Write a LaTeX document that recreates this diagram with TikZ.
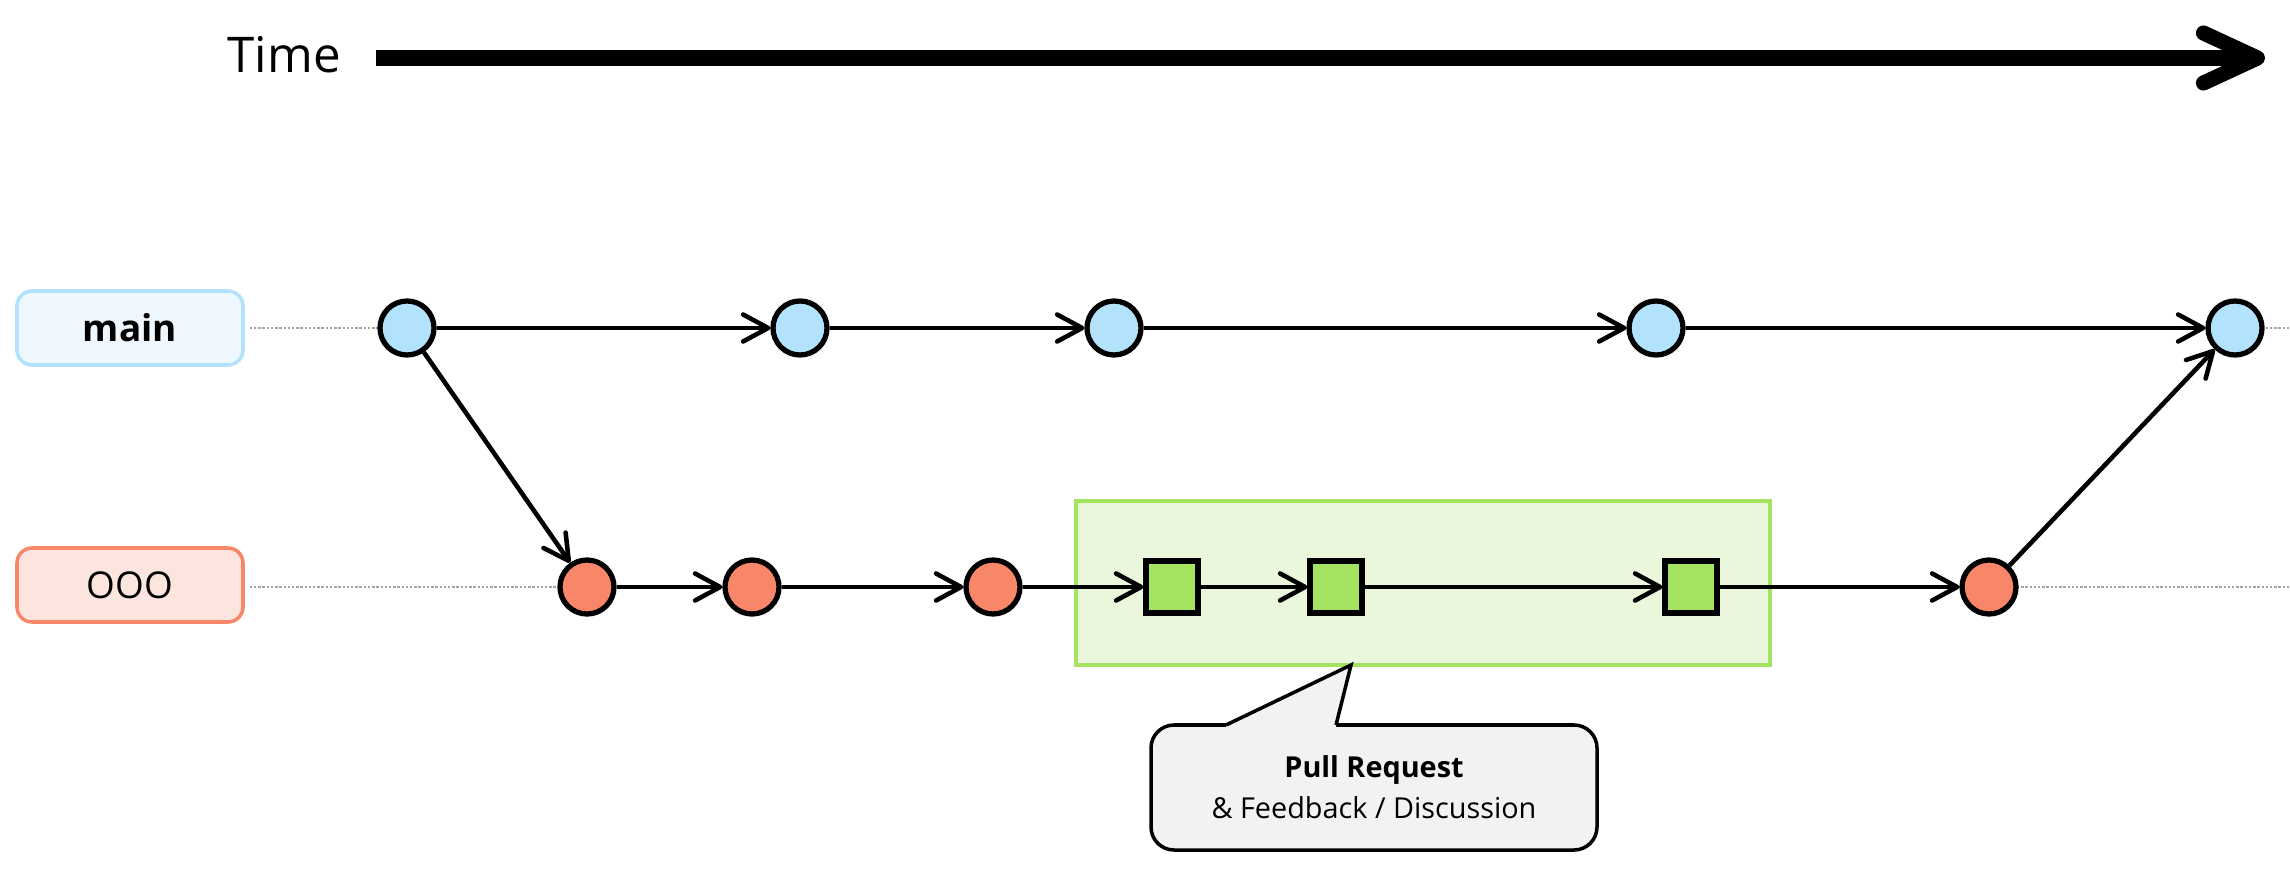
\documentclass[tikz,border=0pt]{standalone}
\usepackage{fontspec}
\setmainfont{Open Sans}
\usepackage{color}
\usepackage{tikz}
\usetikzlibrary{arrows.meta,calc}
\definecolor{mainfillcol}{RGB}{179,226,252}
\definecolor{mainlabelcol}{RGB}{239,247,254}
\definecolor{ooofillcol}{RGB}{248,135,106}
\definecolor{ooolabelcol}{RGB}{252,229,222}
\definecolor{prgreencol}{RGB}{164,228,96}
\definecolor{prareacol}{RGB}{234,247,221}
\definecolor{calloutcol}{RGB}{242,242,242}
\definecolor{dotcol}{RGB}{165,165,165}

\begin{document}
\begin{tikzpicture}[
        every node/.append style={inner sep=0pt},
        mainc/.style={circle, draw=black, line width=1.5pt, fill=mainfillcol, minimum size=0.54cm},
        oooc/.style={circle, draw=black, line width=1.5pt, fill=ooofillcol, minimum size=0.54cm},
        prsq/.style={rectangle, draw=black, line width=1.5pt, fill=prgreencol, minimum size=0.52cm},
        commit/.style={black, line width=1.3pt, -{Straight Barb[length=2.5mm,width=2.7mm,line cap=round,line join=round]}},
        branchlabel/.style={rectangle, rounded corners=0.15cm, line width=1pt, minimum width=2.26cm, minimum height=0.74cm, font=\fontsize{10.5}{12}\selectfont},
        guide/.style={dotcol, line width=0.6pt, dash pattern=on 0.7pt off 0.5pt}]
        \useasboundingbox (0,0) rectangle (22.9,-8.78);
        \node (time) [anchor=base west, font=\fontsize{14}{16}\selectfont] at (2.27,-0.73) {Time};
        \coordinate (tstart) at (3.76,-0.58);
        \coordinate (tend) at (22.65,-0.58);
        \draw [black, line width=4.3pt, -{Straight Barb[length=5.4mm,width=5mm,line cap=round,line join=round]}] (tstart) -- (tend);
        \node (mainlbl) [branchlabel, draw=mainfillcol, fill=mainlabelcol, font=\fontsize{10.5}{12}\selectfont\bfseries] at (1.30,-3.28) {main};
        \node (ooolbl) [branchlabel, draw=ooofillcol, fill=ooolabelcol] at (1.30,-5.85) {OOO};
        \coordinate (mainend) at (22.9,-3.28);
        \coordinate (oooend) at (22.9,-5.87);
        \draw [guide] ([xshift=0.05cm]mainlbl.east) -- (mainend);
        \draw [guide] ([xshift=0.05cm]ooolbl.east |- oooend) -- (oooend);
        \node (prbox) [rectangle, draw=prgreencol, fill=prareacol, line width=1.2pt, minimum width=6.94cm, minimum height=1.64cm] at (14.23,-5.83) {};
        \node (m1) [mainc] at (4.07,-3.28) {};
        \node (m2) [mainc] at (8.00,-3.28) {};
        \node (m3) [mainc] at (11.14,-3.28) {};
        \node (m4) [mainc] at (16.56,-3.28) {};
        \node (m5) [mainc] at (22.35,-3.28) {};
        \node (o1) [oooc] at (5.87,-5.87) {};
        \node (o2) [oooc] at (7.52,-5.87) {};
        \node (o3) [oooc] at (9.93,-5.87) {};
        \node (s1) [prsq] at (11.72,-5.87) {};
        \node (s2) [prsq] at (13.36,-5.87) {};
        \node (s3) [prsq] at (16.91,-5.87) {};
        \node (o4) [oooc] at (19.89,-5.87) {};
        \draw [commit] (m1) -- (m2);
        \draw [commit] (m2) -- (m3);
        \draw [commit] (m3) -- (m4);
        \draw [commit] (m4) -- (m5);
        \draw [commit] (m1) -- (o1);
        \draw [commit] (o1) -- (o2);
        \draw [commit] (o2) -- (o3);
        \draw [commit] (o3) -- (s1);
        \draw [commit] (s1) -- (s2);
        \draw [commit] (s2) -- (s3);
        \draw [commit] (s3) -- (o4);
        \draw [commit] (o4) -- (m5);
        \node (pr) [rectangle, draw=black, fill=calloutcol, line width=1pt, rounded corners=0.23cm, minimum width=4.46cm, minimum height=1.25cm, align=center, font=\fontsize{8.2}{11.7}\selectfont] at (13.74,-7.875) {\textbf{Pull Request}\\\& Feedback / Discussion};
        \coordinate (tip) at (13.51,-6.65);
        \coordinate (bl) at (12.26,-7.25);
        \coordinate (br) at (13.36,-7.25);
        \fill [calloutcol] (bl) -- (tip) -- (br) -- ($(br)+(0,-0.05)$) -- ($(bl)+(0,-0.05)$) -- cycle;
        \draw [black, line width=1pt] (bl) -- (tip) -- (br);
\end{tikzpicture}
\end{document}
